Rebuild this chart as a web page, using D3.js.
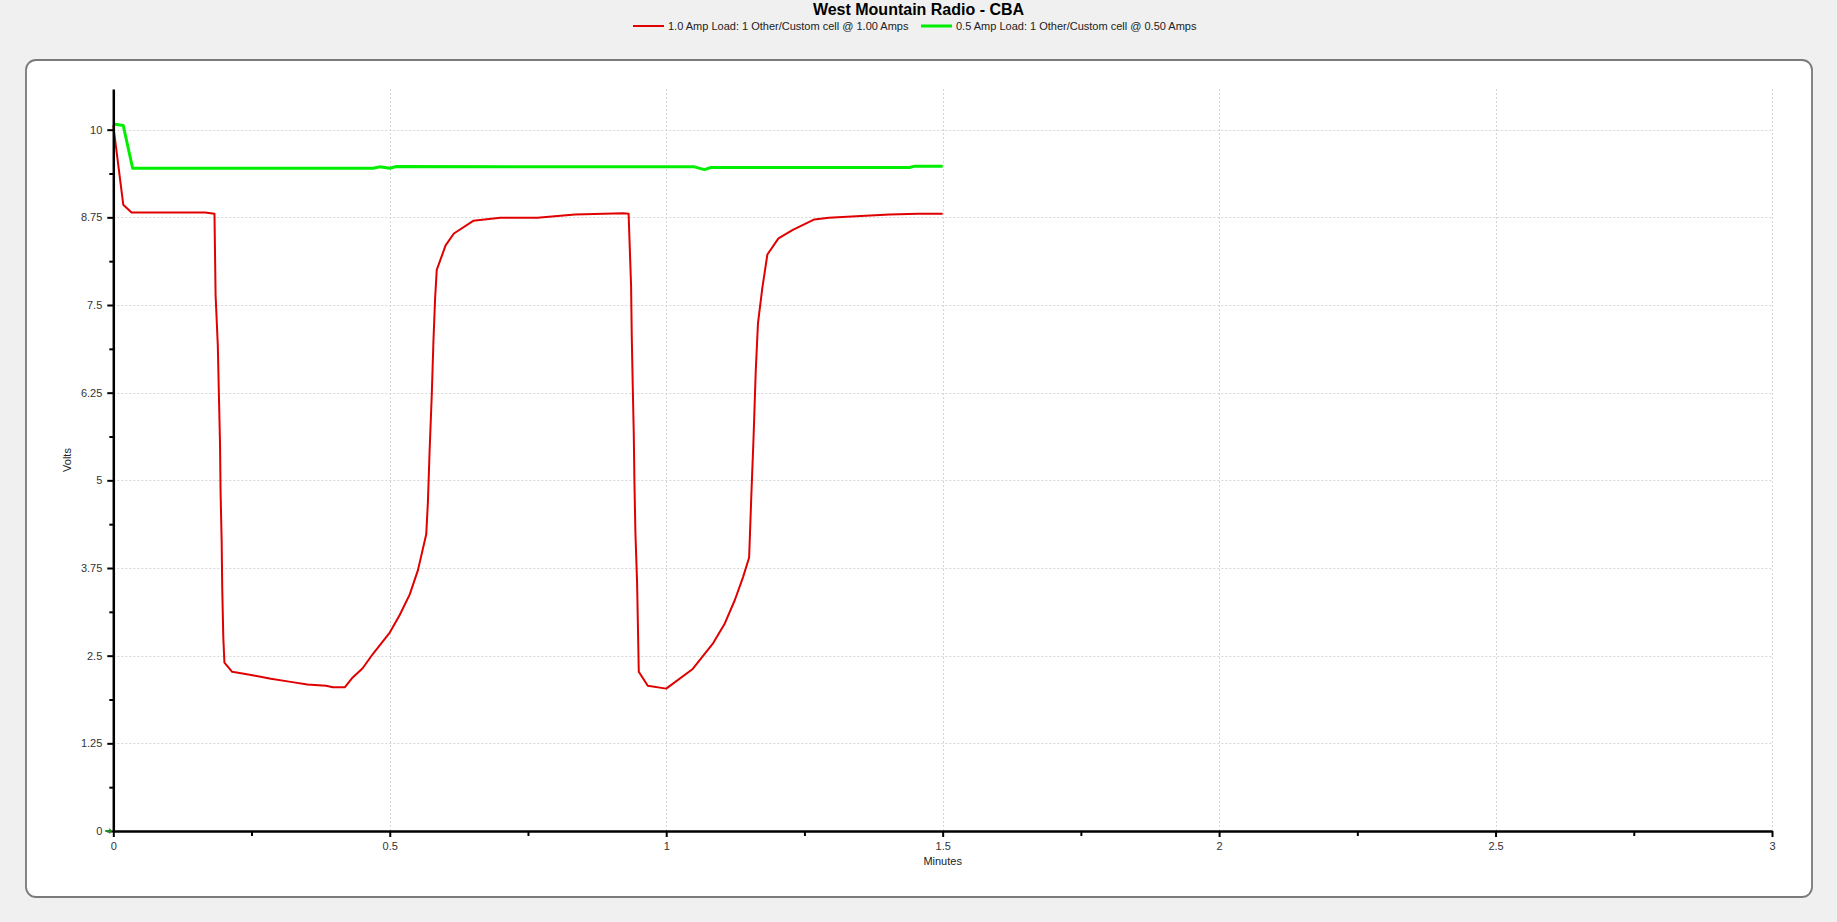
<!DOCTYPE html>
<html>
<head>
<meta charset="utf-8">
<script src="https://cdn.jsdelivr.net/npm/d3@7"></script>
<style>
  html, body { margin: 0; padding: 0; background: #f0f0f0; }
  svg { display: block; font-family: "Liberation Sans", Arial, sans-serif; }
</style>
</head>
<body>
<svg id="chart" width="1837" height="922"></svg>
<script>
// ---- Data ----
const title = "West Mountain Radio - CBA";
const seriesNames = [
  "1.0 Amp Load: 1 Other/Custom cell @ 1.00 Amps",
  "0.5 Amp Load: 1 Other/Custom cell @ 0.50 Amps"
];
const seriesColors = ["#e00000", "#00ee00"];

const redMinutes = [0, 0.018, 0.033, 0.166, 0.183, 0.185, 0.189, 0.191, 0.193, 0.194, 0.196, 0.197, 0.199, 0.201, 0.215, 0.252, 0.285, 0.318, 0.351, 0.385, 0.397, 0.419, 0.433, 0.451, 0.469, 0.5, 0.518, 0.536, 0.551, 0.566, 0.569, 0.572, 0.576, 0.579, 0.582, 0.585, 0.601, 0.616, 0.651, 0.700, 0.767, 0.835, 0.922, 0.932, 0.9365, 0.9377, 0.9395, 0.9414, 0.9426, 0.9444, 0.9474, 0.9504, 0.9667, 1.0, 1.048, 1.085, 1.106, 1.124, 1.139, 1.150, 1.154, 1.158, 1.162, 1.166, 1.174, 1.183, 1.203, 1.229, 1.268, 1.294, 1.352, 1.404, 1.455, 1.5];
const redVolts = [10.06, 8.93, 8.82, 8.82, 8.80, 7.64, 6.93, 6.22, 5.53, 4.84, 4.13, 3.47, 2.75, 2.40, 2.27, 2.22, 2.17, 2.13, 2.09, 2.07, 2.05, 2.05, 2.19, 2.32, 2.52, 2.83, 3.08, 3.37, 3.72, 4.23, 4.69, 5.40, 6.22, 6.98, 7.59, 8.0, 8.35, 8.52, 8.70, 8.745, 8.745, 8.79, 8.81, 8.80, 7.77, 7.06, 6.35, 5.64, 4.94, 4.23, 3.52, 2.27, 2.07, 2.03, 2.31, 2.68, 2.96, 3.29, 3.62, 3.90, 4.79, 5.61, 6.57, 7.24, 7.75, 8.22, 8.45, 8.57, 8.72, 8.745, 8.77, 8.79, 8.80, 8.80];

const greenMinutes = [0, 0.018, 0.035, 0.47, 0.482, 0.5, 0.512, 1.051, 1.069, 1.081, 1.44, 1.45, 1.5];
const greenVolts = [10.08, 10.06, 9.45, 9.45, 9.47, 9.45, 9.475, 9.47, 9.43, 9.46, 9.46, 9.48, 9.48];

const xTicks = [0, 0.5, 1, 1.5, 2, 2.5, 3];
const xMinorTicks = [0.25, 0.75, 1.25, 1.75, 2.25, 2.75];
const yTicks = [0, 1.25, 2.5, 3.75, 5, 6.25, 7.5, 8.75, 10];
const yMinorTicks = [0.625, 1.875, 3.125, 4.375, 5.625, 6.875, 8.125, 9.375];
const xLabel = "Minutes";
const yLabel = "Volts";

// ---- Layout ----
const svg = d3.select("#chart");
const plot = { left: 113.3, right: 1772, top: 89, bottom: 831 };

const x = d3.scaleLinear().domain([0, 3]).range([plot.left, plot.right]);
const y = d3.scaleLinear().domain([0, 10.58]).range([plot.bottom, plot.top]);

// frame
svg.append("rect")
  .attr("x", 26).attr("y", 60).attr("width", 1786).attr("height", 837)
  .attr("rx", 10).attr("ry", 10)
  .attr("fill", "#ffffff").attr("stroke", "#7a7a7a").attr("stroke-width", 1.8);

// title
svg.append("text")
  .attr("x", 918.5).attr("y", 15)
  .attr("text-anchor", "middle")
  .attr("font-size", 16).attr("font-weight", "bold").attr("fill", "#000")
  .text(title);

// legend
const legendItems = [
  { name: seriesNames[0], color: seriesColors[0], x0: 633, w: 2 },
  { name: seriesNames[1], color: seriesColors[1], x0: 921, w: 3 }
];
const legY = 26;
legendItems.forEach(d => {
  svg.append("line")
    .attr("x1", d.x0).attr("x2", d.x0 + 31).attr("y1", legY).attr("y2", legY)
    .attr("stroke", d.color).attr("stroke-width", d.w);
  svg.append("text")
    .attr("x", d.x0 + 35).attr("y", legY + 4)
    .attr("font-size", 11).attr("fill", "#222")
    .text(d.name);
});

// gridlines
const grid = svg.append("g").attr("stroke", "#d6d6d6").attr("stroke-width", 1).attr("stroke-dasharray", "2,2");
grid.selectAll(".gy").data(yTicks.filter(v => v > 0)).enter().append("line")
  .attr("x1", plot.left).attr("x2", plot.right)
  .attr("y1", d => Math.round(y(d)) + 0.5).attr("y2", d => Math.round(y(d)) + 0.5);
grid.selectAll(".gx").data(xTicks.filter(v => v > 0)).enter().append("line")
  .attr("y1", plot.top).attr("y2", plot.bottom)
  .attr("x1", d => Math.round(x(d)) + 0.5).attr("x2", d => Math.round(x(d)) + 0.5);

// lines
const lineGen = d3.line().x(d => x(d[0])).y(d => y(d[1]));
const redData = redMinutes.map((t, i) => [t, redVolts[i]]);
const greenData = greenMinutes.map((t, i) => [t, greenVolts[i]]);

svg.append("path").datum(greenData)
  .attr("d", lineGen).attr("fill", "none")
  .attr("stroke", seriesColors[1]).attr("stroke-width", 3).attr("stroke-linejoin", "round");
svg.append("path").datum(redData)
  .attr("d", lineGen).attr("fill", "none")
  .attr("stroke", seriesColors[0]).attr("stroke-width", 2).attr("stroke-linejoin", "round");

// axes
function styleAxis(g) {
  g.select(".domain").attr("stroke", "#000").attr("stroke-width", 2.5);
  g.selectAll(".tick line").attr("stroke", "#000").attr("stroke-width", 2);
  g.selectAll(".tick text").attr("fill", "#333").attr("font-size", 11)
    .attr("font-family", "Liberation Sans, Arial, sans-serif");
}
const fmt = d3.format("~g");

const xAxis = svg.append("g").attr("transform", `translate(0,${plot.bottom})`)
  .call(d3.axisBottom(x).tickValues(xTicks).tickFormat(fmt).tickSize(6).tickPadding(5).tickSizeOuter(0));
styleAxis(xAxis);
const xMinor = svg.append("g").attr("transform", `translate(0,${plot.bottom})`)
  .call(d3.axisBottom(x).tickValues(xMinorTicks).tickFormat("").tickSize(5).tickSizeOuter(0));
xMinor.select(".domain").remove();
xMinor.selectAll(".tick line").attr("stroke", "#000").attr("stroke-width", 2);

const yAxis = svg.append("g").attr("transform", `translate(${plot.left},0)`)
  .call(d3.axisLeft(y).tickValues(yTicks).tickFormat(fmt).tickSize(6).tickPadding(5).tickSizeOuter(0));
styleAxis(yAxis);
const yMinor = svg.append("g").attr("transform", `translate(${plot.left},0)`)
  .call(d3.axisLeft(y).tickValues(yMinorTicks).tickFormat("").tickSize(4).tickSizeOuter(0));
yMinor.select(".domain").remove();
yMinor.selectAll(".tick line").attr("stroke", "#000").attr("stroke-width", 2);

// zero marker (small green arrow)
svg.append("path")
  .attr("d", `M${plot.left - 8},${y(0) - 1} L${plot.left - 4},${y(0) - 1} L${plot.left - 4},${y(0) - 3} L${plot.left - 1},${y(0)} L${plot.left - 4},${y(0) + 3} L${plot.left - 4},${y(0) + 1} L${plot.left - 8},${y(0) + 1} Z`)
  .attr("fill", "#1d8a1d");

// axis labels
svg.append("text")
  .attr("x", (plot.left + plot.right) / 2).attr("y", 865)
  .attr("text-anchor", "middle").attr("font-size", 11).attr("fill", "#222")
  .text(xLabel);
svg.append("text")
  .attr("transform", `translate(71,${(plot.top + plot.bottom) / 2}) rotate(-90)`)
  .attr("text-anchor", "middle").attr("font-size", 11).attr("fill", "#222")
  .text(yLabel);
</script>
</body>
</html>
